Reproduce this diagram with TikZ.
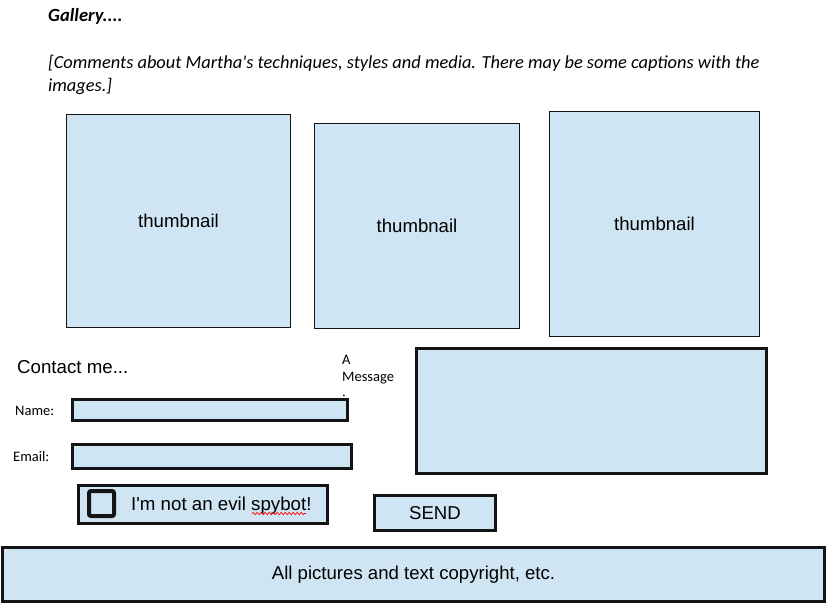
\documentclass[tikz,border=0pt]{standalone}
\usepackage{fontspec}
\usetikzlibrary{decorations.pathmorphing}
\newfontfamily\arialf{Liberation Sans}
\newfontfamily\calf{Carlito}
\definecolor{boxfill}{RGB}{208,229,243}
\definecolor{boxline}{RGB}{20,20,20}
\tikzset{
  thumb/.style={draw=boxline, line width=1.3bp, fill=boxfill, inner sep=0pt,
    font=\arialf\fontsize{18.6bp}{22bp}\selectfont},
  field/.style={draw=boxline, line width=3bp, fill=boxfill, inner sep=0pt,
    font=\arialf\fontsize{18.6bp}{22bp}\selectfont},
  tick/.style={draw=boxline, line width=4bp, fill=boxfill, inner sep=0pt, rounded corners=2bp},
  bigtxt/.style={inner sep=0pt, font=\arialf\fontsize{18.7bp}{22bp}\selectfont},
  caltxt/.style={inner sep=0pt, font=\calf\itshape\fontsize{18.4bp}{23.4bp}\selectfont},
  smalltxt/.style={inner sep=0pt, font=\calf\fontsize{14.5bp}{19bp}\selectfont},
  squiggle/.style={draw=red, line width=0.7bp, decorate,
    decoration={snake, amplitude=1.1bp, segment length=4bp}}
}
\begin{document}
\begin{tikzpicture}[x=1bp, y=-1bp]
\useasboundingbox (0,0) rectangle (827,604);
% header
\node[caltxt, font=\calf\bfseries\itshape\fontsize{18.6bp}{20bp}\selectfont, anchor=base west] (gal) at (48,21.7) {Gallery....};
\node[caltxt, anchor=base west] (com1) at (48,68.3) {[Comments about Martha\textquotesingle s techniques, styles and media. There may be some captions with the};
\node[caltxt, anchor=base west] (com2) at (48,91.7) {images.]};
% thumbnails
\node[thumb, minimum width=224bp, minimum height=213bp] (t1) at (178.5,221) {thumbnail};
\node[thumb, minimum width=205bp, minimum height=205bp] (t2) at (417,226) {thumbnail};
\node[thumb, minimum width=210bp, minimum height=225bp] (t3) at (654.5,224) {thumbnail};
% contact
\node[bigtxt, anchor=base west] (contact) at (17,373.3) {Contact me...};
\node[smalltxt, anchor=base west] (msgA) at (342,364) {A};
\node[smalltxt, anchor=base west] (msgB) at (342,381.7) {Message};
\node[smalltxt, anchor=base west] (msgC) at (342,401.7) {:};
\node[smalltxt, anchor=base west] (namelbl) at (15,415) {Name:};
\node[smalltxt, anchor=base west] (maillbl) at (13,461.7) {Email:};
\node[field, minimum width=275bp, minimum height=21bp] (namebox) at (210,409.5) {};
\node[field, minimum width=279bp, minimum height=24bp] (mailbox) at (212,456) {};
\node[field, minimum width=350bp, minimum height=125bp] (msgbox) at (591.5,411) {};
% checkbox
\node[field, minimum width=249bp, minimum height=38bp] (chk) at (203,504.5) {};
\node[tick, minimum width=25bp, minimum height=25bp] (tickbox) at (101.5,503.5) {};
\node[bigtxt, anchor=base west] (chktxt) at (131,510) {I\textquotesingle m not an evil spybot!};
\coordinate (sqA) at (252,513.5);
\coordinate (sqB) at (306,513.5);
\draw[squiggle] (sqA) -- (sqB);
% send
\node[field, minimum width=121bp, minimum height=35bp] (send) at (435,513) {SEND};
% footer
\node[field, line width=2.6bp, minimum width=822bp, minimum height=54bp] (footer) at (413.5,574.5) {All pictures and text copyright, etc.};
\end{tikzpicture}
\end{document}
